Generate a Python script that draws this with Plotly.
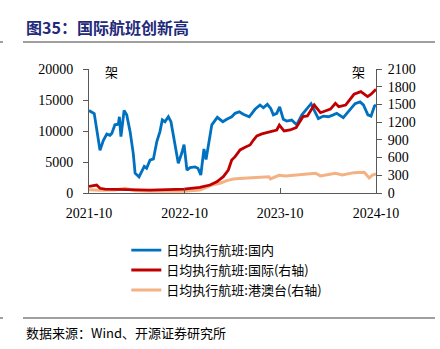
import plotly.graph_objects as go

# ---- data ----
dom_dates = ["2021-10-01","2021-10-21","2021-11-12","2021-11-25","2021-12-08","2021-12-20","2021-12-27",
             "2022-01-08","2022-01-21","2022-01-25","2022-01-31","2022-02-12","2022-02-22","2022-03-07",
             "2022-03-19","2022-03-26","2022-04-10","2022-04-20","2022-04-30","2022-05-09","2022-05-22",
             "2022-06-04","2022-06-17","2022-06-29","2022-07-08","2022-07-18","2022-07-31","2022-08-10",
             "2022-08-19","2022-09-07","2022-09-20","2022-09-29","2022-10-10","2022-10-22","2022-11-10",
             "2022-11-21","2022-12-02","2022-12-14","2022-12-22","2023-01-13","2023-02-03","2023-02-24",
             "2023-03-11","2023-03-30","2023-04-12","2023-04-28","2023-05-13","2023-06-05","2023-06-27",
             "2023-07-16","2023-07-29","2023-08-13","2023-08-26","2023-09-05","2023-09-18","2023-09-29",
             "2023-10-13","2023-10-26","2023-11-14","2023-12-03","2023-12-23","2024-01-11","2024-01-27",
             "2024-02-11","2024-02-24","2024-03-14","2024-04-02","2024-04-21","2024-05-04","2024-05-29",
             "2024-06-24","2024-07-13","2024-08-01","2024-08-14","2024-08-31","2024-09-12","2024-09-25",
             "2024-10-01"]
dom_vals = [13300,12800,6900,8500,9500,9300,9600,
            11000,11100,12300,9100,13300,12600,9900,
            6400,3200,2600,3400,4300,4000,5300,
            5500,8300,9900,11800,11500,12300,11500,
            9100,4800,6400,7800,3700,4100,4200,
            4000,2900,7100,5400,11000,12200,11500,
            11900,12300,12850,13100,12700,12300,13500,
            14200,13750,14300,13650,12600,12850,13900,
            11900,11600,11770,11000,12600,13650,14400,
            13100,12000,12400,12300,12600,12850,12150,
            13400,14400,14700,14200,12600,12400,14000,
            14200]

intl_dates = ["2021-10-01","2021-10-30","2021-11-12","2021-12-01","2022-05-22","2022-09-29","2022-11-28",
              "2023-01-06","2023-02-01","2023-02-26","2023-03-17","2023-03-30","2023-04-12","2023-05-01",
              "2023-05-20","2023-06-08","2023-06-21","2023-07-04","2023-07-23","2023-08-13","2023-08-30",
              "2023-09-18","2023-09-28","2023-10-16","2023-11-08","2023-12-01","2023-12-27","2024-01-13",
              "2024-02-08","2024-03-03","2024-04-10","2024-04-29","2024-05-12","2024-06-07","2024-07-09",
              "2024-08-04","2024-08-30","2024-09-12","2024-10-01"]
intl_vals = [110,135,80,65,50,65,95,
             135,190,276,390,560,615,730,
             775,813,898,966,1000,1020,1040,
             1067,1150,1050,1067,1107,1293,1305,
             1490,1360,1420,1520,1462,1490,1672,
             1716,1632,1672,1757]

hmt_dates = ["2021-10-01","2021-11-12","2022-01-08","2022-02-16","2022-03-26","2022-05-22","2022-09-29",
             "2022-11-28","2023-01-13","2023-02-13","2023-03-11","2023-04-05","2023-05-13","2023-07-04",
             "2023-08-19","2023-08-25","2023-09-26","2023-10-21","2023-11-29","2024-01-12","2024-02-13",
             "2024-03-03","2024-04-29","2024-05-25","2024-07-09","2024-08-17","2024-09-05","2024-09-18",
             "2024-10-01"]
hmt_vals = [55,45,50,80,40,30,30,
            50,135,165,210,237,250,265,
            276,240,300,290,305,316,335,
            290,335,305,345,350,255,305,
            325]

x_ticks = ["2021-10-01","2022-10-01","2023-10-01","2024-10-01"]
x_tick_labels = ["2021-10","2022-10","2023-10","2024-10"]
y_ticks = [0, 5000, 10000, 15000, 20000]
y_tick_labels = ["0", "5000", "10000", "15000", "20000"]
y2_ticks = [0, 300, 600, 900, 1200, 1500, 1800, 2100]
y2_tick_labels = ["0", "300", "600", "900", "1200", "1500", "1800", "2100"]
names = ["日均执行航班:国内", "日均执行航班:国际(右轴)", "日均执行航班:港澳台(右轴)"]

serif = "Liberation Serif"
cjk = "Noto Sans CJK SC"

fig = go.Figure()
fig.add_trace(go.Scatter(x=dom_dates, y=dom_vals, name=names[0], mode="lines",
                         line=dict(color="#0070C0", width=2.8), legendgroup="a", legendrank=1))
fig.add_trace(go.Scatter(x=hmt_dates, y=hmt_vals, name=names[2], mode="lines", yaxis="y2",
                         line=dict(color="#F4B183", width=3), legendgroup="c", legendrank=3))
fig.add_trace(go.Scatter(x=intl_dates, y=intl_vals, name=names[1], mode="lines", yaxis="y2",
                         line=dict(color="#C00000", width=2.8), legendgroup="b", legendrank=2))

axis_col = "#595959"
tickfont = dict(family=serif, size=14, color="#000")
fig.update_layout(
    width=440, height=349,
    margin=dict(l=89, r=64, t=69, b=156),
    plot_bgcolor="white", paper_bgcolor="white",
    showlegend=True,
    legend=dict(x=0.13, y=-0.34, xanchor="left", yanchor="top",
                font=dict(family=cjk, size=13, color="#000000"),
                traceorder="grouped", tracegroupgap=0, itemwidth=30,
                bgcolor="rgba(0,0,0,0)"),
    xaxis=dict(type="date", range=["2021-10-01", "2024-10-01"],
               tickvals=x_ticks, ticktext=x_tick_labels,
               ticks="inside", ticklen=5, tickcolor=axis_col,
               showline=True, linecolor=axis_col, linewidth=1,
               showgrid=False, zeroline=False, ticklabelstandoff=7,
               tickfont=tickfont),
    yaxis=dict(range=[0, 20000], tickvals=y_ticks, ticktext=y_tick_labels,
               ticks="outside", ticklen=5, tickcolor=axis_col,
               showline=True, linecolor=axis_col, linewidth=1,
               showgrid=False, zeroline=False, ticklabelstandoff=7,
               tickfont=tickfont),
    yaxis2=dict(range=[0, 2100], tickvals=y2_ticks, ticktext=y2_tick_labels,
                overlaying="y", side="right",
                ticks="outside", ticklen=5, tickcolor=axis_col,
                showline=True, linecolor=axis_col, linewidth=1,
                showgrid=False, zeroline=False, ticklabelstandoff=3,
                tickfont=tickfont),
)

# title & source
fig.add_annotation(text="<b>图35：国际航班创新高</b>", xref="paper", yref="paper",
                   x=(24-89)/287, y=(193-27)/124, xanchor="left", yanchor="middle",
                   showarrow=False, font=dict(family=cjk, size=16, color="#1F2A7A"))
fig.add_annotation(text="数据来源：Wind、开源证券研究所", xref="paper", yref="paper",
                   x=(24-89)/287, y=(193-332)/124, xanchor="left", yanchor="middle",
                   showarrow=False, font=dict(family=cjk, size=13, color="#000"))
fig.add_annotation(text="架", xref="paper", yref="paper", x=(111-89)/287, y=(193-71)/124,
                   xanchor="center", yanchor="middle", showarrow=False,
                   font=dict(family=cjk, size=13, color="#000"))
fig.add_annotation(text="架", xref="paper", yref="paper", x=(358-89)/287, y=(193-71)/124,
                   xanchor="center", yanchor="middle", showarrow=False,
                   font=dict(family=cjk, size=13, color="#000"))

# separator lines
for yy in (42, 318):
    py = (193-yy)/124
    fig.add_shape(type="line", xref="paper", yref="paper", x0=(23-89)/287, x1=(435-89)/287,
                  y0=py, y1=py, line=dict(color="#808080", width=1.5))
    fig.add_shape(type="line", xref="paper", yref="paper", x0=(0-89)/287, x1=(3-89)/287,
                  y0=py, y1=py, line=dict(color="#808080", width=1.5))

fig.write_html("out.html")
